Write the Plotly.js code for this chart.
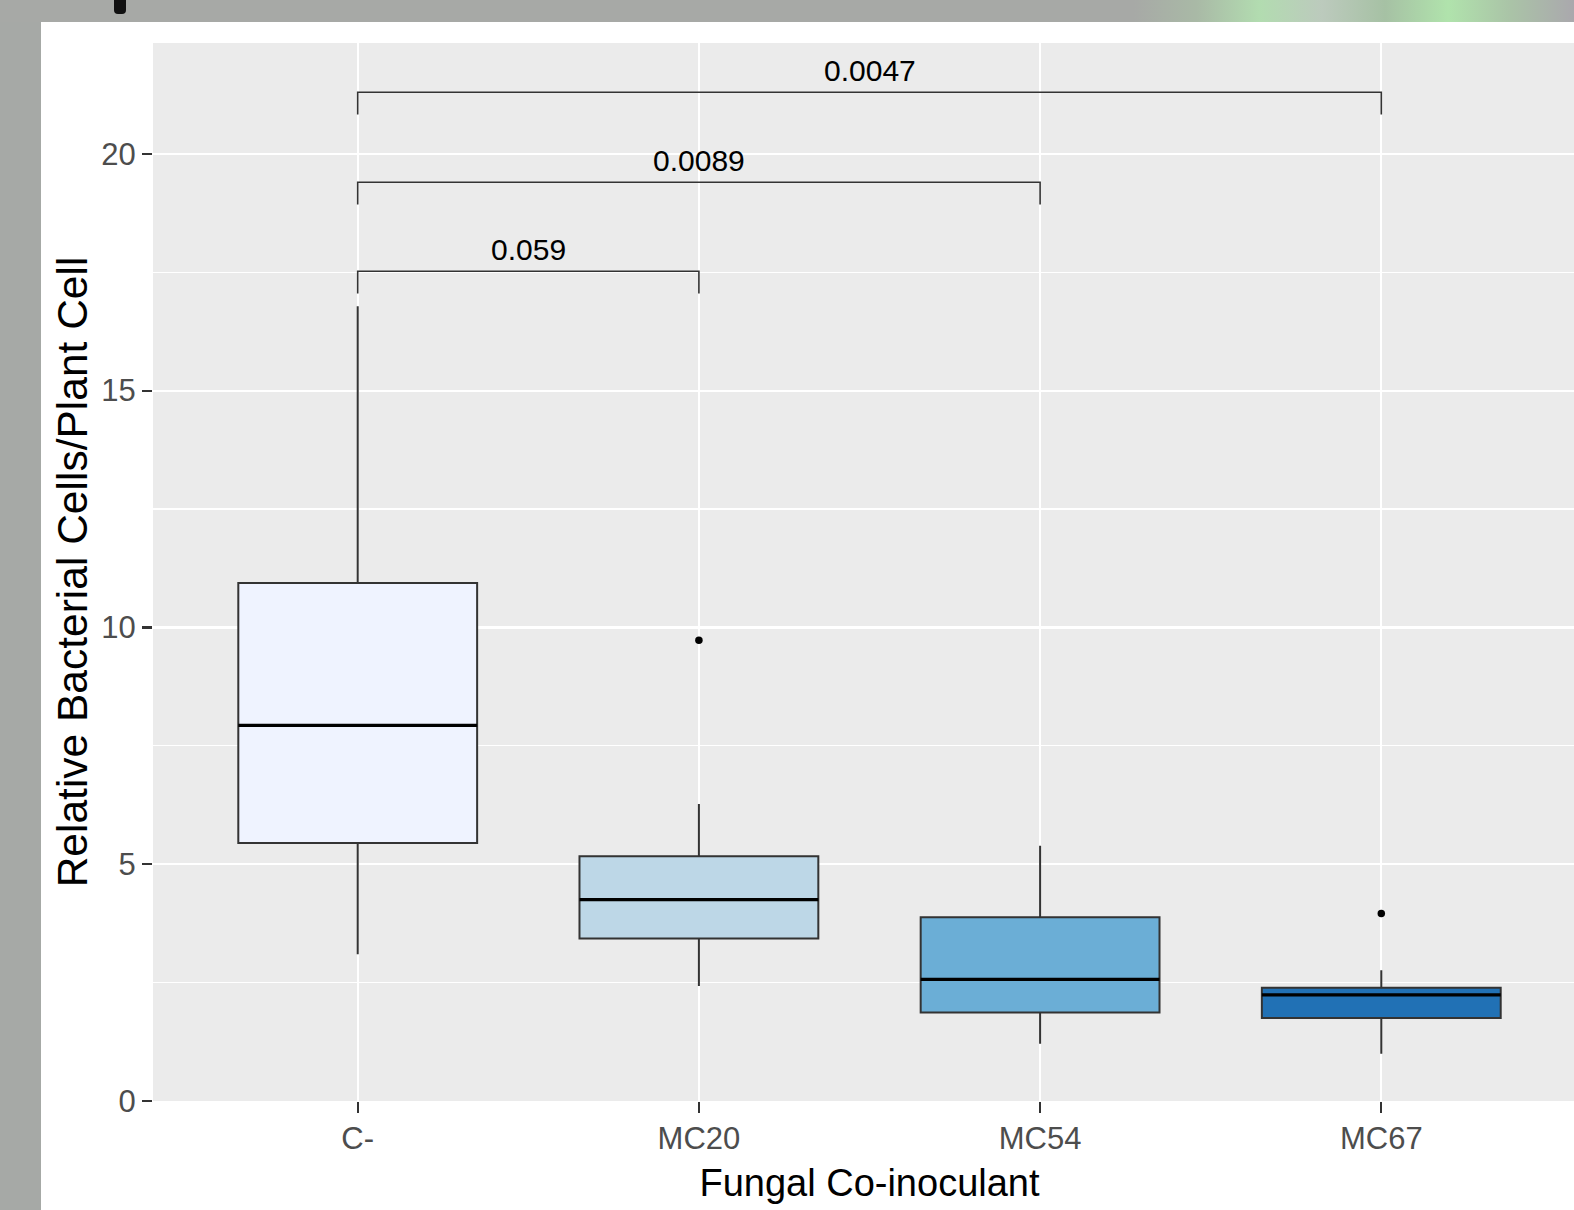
<!DOCTYPE html>
<html>
<head>
<meta charset="utf-8">
<script src="https://cdn.plot.ly/plotly-3.0.1.min.js"></script>
<style>
  html, body { margin: 0; padding: 0; width: 1574px; height: 1210px; overflow: hidden; background: #a6a9a6; }
  #topband { position: absolute; left: 0; top: 0; width: 1574px; height: 22px;
    background: linear-gradient(90deg, #a7a9a6 0%, #a7a9a6 72%, #a9b9a6 76%, #b2dcb0 80%, #bccabd 84%, #a6c1a4 88%, #b0e3ac 92%, #aac3a7 96%, #aaa8ad 100%); }
  #blob { position: absolute; left: 114px; top: 0; width: 12px; height: 14px; background: #111; border-radius: 0 0 4px 4px; }
  #card { position: absolute; left: 41px; top: 22px; width: 1545px; height: 1188px; background: #ffffff; }
  #chart { width: 1545px; height: 1188px; }
</style>
</head>
<body>
<div id="topband"></div>
<div id="blob"></div>
<div id="card"><div id="chart"></div></div>
<script>
// ---- data ----
const categories = ["C-", "MC20", "MC54", "MC67"];
const q1Values = [5.45, 3.43, 1.87, 1.75];
const medianValues = [7.93, 4.25, 2.57, 2.24];
const q3Values = [10.94, 5.17, 3.88, 2.39];
const lowerWhisker = [3.10, 2.43, 1.21, 1.00];
const upperWhisker = [16.78, 6.27, 5.39, 2.76];
const fillColors = ["#eff3ff", "#bdd7e7", "#6baed6", "#2171b5"];
const outlierGroup = ["MC20", "MC67"];
const outlierValues = [9.73, 3.96];
const compareFrom = ["C-", "C-", "C-"];
const compareTo = ["MC20", "MC54", "MC67"];
const bracketHeights = [17.52, 19.40, 21.30];
const pLabels = ["0.059", "0.0089", "0.0047"];

// ---- style ----
const FONT = "Liberation Sans, Arial, sans-serif";
const boxWidth = 0.7;
const tip = 0.47;

const idx = c => categories.indexOf(c);
const traces = [];

categories.forEach((c, i) => {
  traces.push({
    type: "box",
    x: [i],
    q1: [q1Values[i]], median: [medianValues[i]], q3: [q3Values[i]],
    lowerfence: [lowerWhisker[i]], upperfence: [upperWhisker[i]],
    width: boxWidth,
    fillcolor: fillColors[i],
    line: { color: "#333333", width: 2 },
    whiskerwidth: 0,
    boxpoints: false,
    hoverinfo: "skip",
    showlegend: false
  });
});

// thicker median lines (ggplot style)
const mx = [], my = [];
categories.forEach((c, i) => {
  mx.push(i - boxWidth / 2, i + boxWidth / 2, null);
  my.push(medianValues[i], medianValues[i], null);
});
traces.push({ type: "scatter", mode: "lines", x: mx, y: my,
  line: { color: "#000000", width: 3.2 }, hoverinfo: "skip", showlegend: false });

// outliers
traces.push({ type: "scatter", mode: "markers",
  x: outlierGroup.map(idx), y: outlierValues,
  marker: { color: "#000000", size: 7.5 }, hoverinfo: "skip", showlegend: false });

// significance brackets
const bx = [], by = [];
const annotations = [];
compareFrom.forEach((f, k) => {
  const a = idx(f), b = idx(compareTo[k]), h = bracketHeights[k];
  bx.push(a, a, b, b, null);
  by.push(h - tip, h, h, h - tip, null);
  annotations.push({ x: (a + b) / 2, y: h, xref: "x", yref: "y", text: pLabels[k],
    showarrow: false, yanchor: "bottom", yshift: 3,
    font: { family: FONT, size: 30, color: "#000000" } });
});
traces.push({ type: "scatter", mode: "lines", x: bx, y: by,
  line: { color: "#333333", width: 1.6 }, hoverinfo: "skip", showlegend: false });

const layout = {
  width: 1545, height: 1188,
  margin: { l: 112, r: 0, t: 21, b: 109 },
  paper_bgcolor: "#ffffff",
  plot_bgcolor: "#ebebeb",
  boxmode: "overlay",
  showlegend: false,
  annotations: annotations,
  xaxis: {
    range: [-0.6, 3.6],
    tickvals: categories.map((c, i) => i),
    ticktext: categories,
    showgrid: true, gridcolor: "#ffffff", gridwidth: 2.2,
    zeroline: false, showline: false,
    ticks: "outside", ticklen: 11, tickwidth: 2.2, tickcolor: "#333333",
    tickfont: { family: FONT, size: 31, color: "#4d4d4d" },
    ticklabelstandoff: -1,
    title: { text: "Fungal Co-inoculant", font: { family: FONT, size: 38, color: "#000000" }, standoff: 14 }
  },
  yaxis: {
    range: [0, 22.34],
    tickvals: [0, 5, 10, 15, 20],
    ticktext: ["0", "5", "10", "15", "20"],
    showgrid: true, gridcolor: "#ffffff", gridwidth: 2.2,
    minor: { tickvals: [2.5, 7.5, 12.5, 17.5], showgrid: true, gridcolor: "#ffffff", gridwidth: 1.1, ticks: "" },
    zeroline: false, showline: false,
    ticks: "outside", ticklen: 10, tickwidth: 2.2, tickcolor: "#333333",
    tickfont: { family: FONT, size: 31, color: "#4d4d4d" },
    ticklabelstandoff: 0,
    title: { text: "Relative Bacterial Cells/Plant Cell", font: { family: FONT, size: 42.5, color: "#000000" }, standoff: 0 }
  }
};

Plotly.newPlot("chart", traces, layout, { displayModeBar: false, staticPlot: true });
</script>
</body>
</html>
